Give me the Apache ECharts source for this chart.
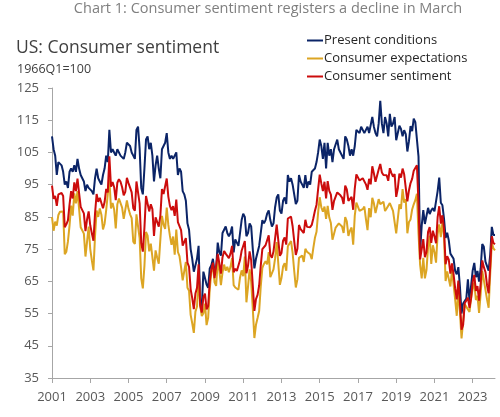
<!DOCTYPE html>
<html>
<head>
<meta charset="utf-8">
<script src="https://cdn.jsdelivr.net/npm/echarts@6/dist/echarts.min.js"></script>
<style>html,body{margin:0;padding:0;background:#fff}#c{width:500px;height:417px}</style>
</head>
<body>
<div id="c"></div>
<script>
// Monthly data, Jan 2001 - Mar 2024
const startYear = 2001;
const tickYears = [2001,2003,2005,2007,2009,2011,2013,2015,2017,2019,2021,2023];
const yTicks = [35,45,55,65,75,85,95,105,115,125];

const presentConditions = [
110,106,104,98,102,102,101,99,95,96,94,99,
100,99,101,99,103,100,98,97,96,93,95,94,
94,93,92,97,100,97,96,95,98,100,104,102,
112,105,106,105,104,106,106,104,104,103,105,108,
108,107,105,104,103,112,113,106,94,92,100,109,
110,106,108,104,96,101,104,100,97,106,107,108,
111,105,103,104,103,104,105,98,100,99,93,92,
90,83,81,75,72,68,70,72,76,58,57,68,
66,64,63,69,70,72,68,69,77,74,73,80,
81,82,80,79,80,82,74,78,77,76,80,84,
86,85,79,80,83,82,75,69,72,72,76,80,
84,83,84,86,87,84,82,83,88,91,92,87,
86,90,91,89,98,96,97,95,92,89,90,98,
96,95,94,98,94,96,95,99,99,100,102,105,
109,107,103,108,100,108,104,106,102,106,106,109,
106,105,105,103,110,109,107,104,106,104,107,112,
112,111,113,112,111,112,113,111,111,116,113,111,
110,114,121,114,111,116,114,110,117,113,114,116,
108.8,108.5,113.3,112.3,110.0,111.9,110.7,105.3,108.5,113.2,111.6,115.5,
114.4,114.8,103.7,74.3,82.3,87.1,82.8,82.9,87.8,85.9,87.0,87.7,
86.7,86.2,93.0,97.2,89.4,88.6,84.5,78.5,80.1,77.7,73.6,74.2,
72.0,68.2,67.2,69.4,63.3,55.0,58.1,58.6,59.7,65.6,58.8,59.4,
68.4,70.7,66.3,68.2,64.9,69.0,76.6,75.7,71.1,70.6,68.3,73.3,
81.9,79.4,79.4
];

const consumerExpectations = [
84.9,80.7,83.5,82.3,85.6,86.6,86.9,86.7,73.4,74.2,77.4,82.3,
88.5,85.4,92.3,89.2,93.0,87.5,81.8,81.6,79.8,72.7,77.3,82.0,
75.0,71.5,68.4,79.0,87.0,85.0,87.6,85.7,81.1,82.9,87.1,86.6,
97.0,87.6,89.3,87.3,81.4,88.9,90.7,90.7,87.9,84.4,85.0,90.1,
87.5,85.8,84.6,77.3,76.6,85.8,85.9,78.3,65.9,62.8,69.8,80.3,
79.2,74.3,76.7,76.8,68.3,74.6,72.3,70.5,78.0,85.3,82.6,81.3,
87.9,82.5,79.1,76.3,78.9,73.3,81.1,74.1,72.8,69.3,65.3,64.9,
71.0,63.0,62.1,54.6,52.0,49.0,55.6,57.2,66.7,57.3,54.2,55.1,
58.1,51.4,53.7,62.6,67.9,70.0,64.7,63.6,71.3,68.4,63.8,67.7,
70.2,68.3,69.5,67.8,69.5,72.2,63.8,63.1,62.6,62.4,66.2,68.4,
66.6,72.7,58.5,63.3,68.7,64.8,56.5,47.4,51.5,53.6,55.8,63.4,
69.2,70.4,71.2,70.3,74.1,66.3,66.1,68.7,72.1,77.2,76.7,63.9,
66.0,69.6,70.6,68.3,75.9,76.5,77.5,73.8,68.2,63.1,65.6,72.3,
71.7,73.0,71.0,75.1,74.2,73.9,73.4,71.9,75.4,78.5,80.4,86.3,
91.1,88.0,86.6,88.2,84.4,88.4,84.8,83.1,77.9,79.8,81.7,82.1,
83.0,83.2,82.0,80.0,84.9,83.6,79.1,80.7,81.7,76.4,85.4,89.4,
89.9,86.9,86.6,87.4,88.2,84.3,80.9,87.7,84.9,90.9,89.2,86.2,
86.5,90.5,88.9,89.1,89.7,86.8,87.6,87.4,89.3,89.4,86.9,87.0,
79.9,84.4,88.9,87.5,93.6,89.4,90.5,79.9,83.4,84.2,87.3,88.9,
90.2,92.2,79.8,70.2,65.9,72.3,65.9,68.5,75.6,79.2,70.4,76.2,
74.1,70.8,79.7,82.7,78.7,83.5,79.1,65.1,68.1,67.9,63.4,68.3,
64.1,59.3,54.3,62.5,55.3,47.3,47.3,57.9,57.9,56.3,55.5,59.9,
62.7,64.6,59.2,60.5,55.2,61.1,68.2,65.4,65.9,59.4,56.8,67.4,
77.1,75.2,74.6
];

const consumerSentiment = [
94.7,90.6,91.5,88.4,92.0,92.6,92.4,91.5,81.8,82.7,83.9,88.8,
93.0,90.7,95.7,93.0,96.9,92.4,88.1,87.6,86.1,80.6,84.2,86.7,
82.4,79.9,77.6,86.0,92.1,89.7,90.9,89.3,87.7,89.6,93.7,92.6,
103.8,94.4,95.8,94.2,90.2,95.6,96.7,95.9,94.2,91.7,92.8,97.1,
95.5,94.1,92.6,87.7,86.9,96.0,96.5,89.1,76.9,74.2,81.6,91.5,
91.2,86.7,88.9,87.4,79.1,84.9,84.7,82.0,85.4,93.6,92.1,91.7,
96.9,91.3,88.4,87.1,88.3,85.3,90.4,83.4,83.4,80.9,76.1,75.5,
78.4,70.8,69.5,62.6,59.8,56.4,61.2,63.0,70.3,57.6,55.3,60.1,
61.2,56.3,57.3,65.1,68.7,70.8,66.0,65.7,73.5,70.6,67.4,72.5,
74.4,73.6,73.6,72.2,73.6,76.0,67.8,68.9,68.2,67.7,71.6,74.5,
74.2,77.5,67.5,69.8,74.3,71.5,63.7,55.8,59.5,60.8,63.7,69.9,
75.0,75.3,76.2,76.4,79.3,73.2,72.3,74.3,78.3,82.6,82.7,72.9,
73.8,77.6,78.6,76.4,84.5,84.1,85.1,82.1,77.5,73.2,75.1,82.5,
81.2,81.6,80.0,84.1,81.9,82.5,81.8,82.5,84.6,86.9,88.8,93.6,
98.1,95.4,93.0,95.9,90.7,96.1,93.1,91.9,87.2,90.0,91.3,92.6,
92.0,91.7,91.0,89.0,94.7,93.5,90.0,89.8,91.2,87.2,93.8,98.2,
98.5,96.3,96.9,97.0,97.1,95.1,93.4,96.8,95.1,100.7,98.5,95.9,
95.7,99.7,101.4,98.8,98.0,98.2,97.9,96.2,100.1,98.6,97.5,98.3,
91.2,93.8,98.4,97.2,100.0,98.2,98.4,89.8,93.2,95.5,96.8,99.3,
99.8,101.0,89.1,71.8,72.3,78.1,72.5,74.1,80.4,81.8,76.9,80.7,
79.0,76.8,84.9,88.3,82.9,85.5,81.2,70.3,72.8,71.7,67.4,70.6,
67.2,62.8,59.4,65.2,58.4,50.0,51.5,58.2,58.6,59.9,56.8,59.7,
64.9,67.0,62.0,63.5,59.0,64.2,71.5,69.4,67.9,63.8,61.3,69.7,
79.0,76.9,76.5
];

const categories = [];
for (let i = 0; i < consumerSentiment.length; i++) {
  const y = startYear + Math.floor(i / 12), m = i % 12 + 1;
  categories.push(y + '-' + (m < 10 ? '0' + m : m));
}
const isTick = (i, v) => {
  const y = parseInt(v.slice(0,4)), m = v.slice(5);
  return m === '01' && tickYears.indexOf(y) >= 0;
};

const FONT = 'Open Sans';
const chart = echarts.init(document.getElementById('c'), null, {renderer: 'canvas'});
chart.setOption({
  animation: false,
  textStyle: {fontFamily: FONT},
  title: [
    {text: 'Chart 1: Consumer sentiment registers a decline in March', left: 268, top: 1, textAlign: 'center', padding: 0,
     textStyle: {fontFamily: FONT, fontSize: 14.5, fontWeight: 'normal', color: '#7f7f7f'}},
    {text: 'US: Consumer sentiment', left: 16, top: 39, padding: 0,
     textStyle: {fontFamily: FONT, fontSize: 17.5, fontWeight: 'normal', color: '#404040'}},
    {text: '1966Q1=100', left: 17, top: 63, padding: 0,
     textStyle: {fontFamily: FONT, fontSize: 12.5, fontWeight: 'normal', color: '#404040'}}
  ],
  legend: {
    orient: 'vertical', left: 307, top: 34, itemWidth: 16, itemHeight: 2, itemGap: 5, padding: 0,
    icon: 'rect',
    textStyle: {fontFamily: FONT, fontSize: 13, color: '#262626', lineHeight: 13, padding: [0,0,0,-4]},
    data: ['Present conditions', 'Consumer expectations', 'Consumer sentiment']
  },
  grid: {left: 52, right: 5, top: 88, bottom: 39, containLabel: false},
  xAxis: {
    type: 'category', data: categories, boundaryGap: false,
    axisLine: {lineStyle: {color: '#a6a6a6', width: 1}},
    axisTick: {show: true, inside: false, length: 5, interval: isTick, lineStyle: {color: '#a6a6a6'}},
    axisLabel: {interval: isTick, formatter: v => v.slice(0,4), color: '#595959', fontSize: 13, margin: 13, fontFamily: FONT},
    splitLine: {show: false}
  },
  yAxis: {
    type: 'value', min: 35, max: 125, interval: 10,
    axisLine: {show: true, lineStyle: {color: '#a6a6a6', width: 1}},
    axisTick: {show: true, inside: false, length: 4, lineStyle: {color: '#a6a6a6'}},
    axisLabel: {color: '#595959', fontSize: 13, margin: 13, fontFamily: FONT,
      formatter: v => yTicks.indexOf(v) >= 0 ? String(v) : ''},
    splitLine: {show: false}
  },
  series: [
    {name: 'Present conditions', type: 'line', data: presentConditions, showSymbol: false, symbol: 'none',
     lineStyle: {color: '#0b2467', width: 2}, itemStyle: {color: '#0b2467'}},
    {name: 'Consumer expectations', type: 'line', data: consumerExpectations, showSymbol: false, symbol: 'none',
     lineStyle: {color: '#dca523', width: 2}, itemStyle: {color: '#dca523'}},
    {name: 'Consumer sentiment', type: 'line', data: consumerSentiment, showSymbol: false, symbol: 'none',
     lineStyle: {color: '#cc0c0c', width: 2}, itemStyle: {color: '#cc0c0c'}}
  ]
});
</script>
</body>
</html>
